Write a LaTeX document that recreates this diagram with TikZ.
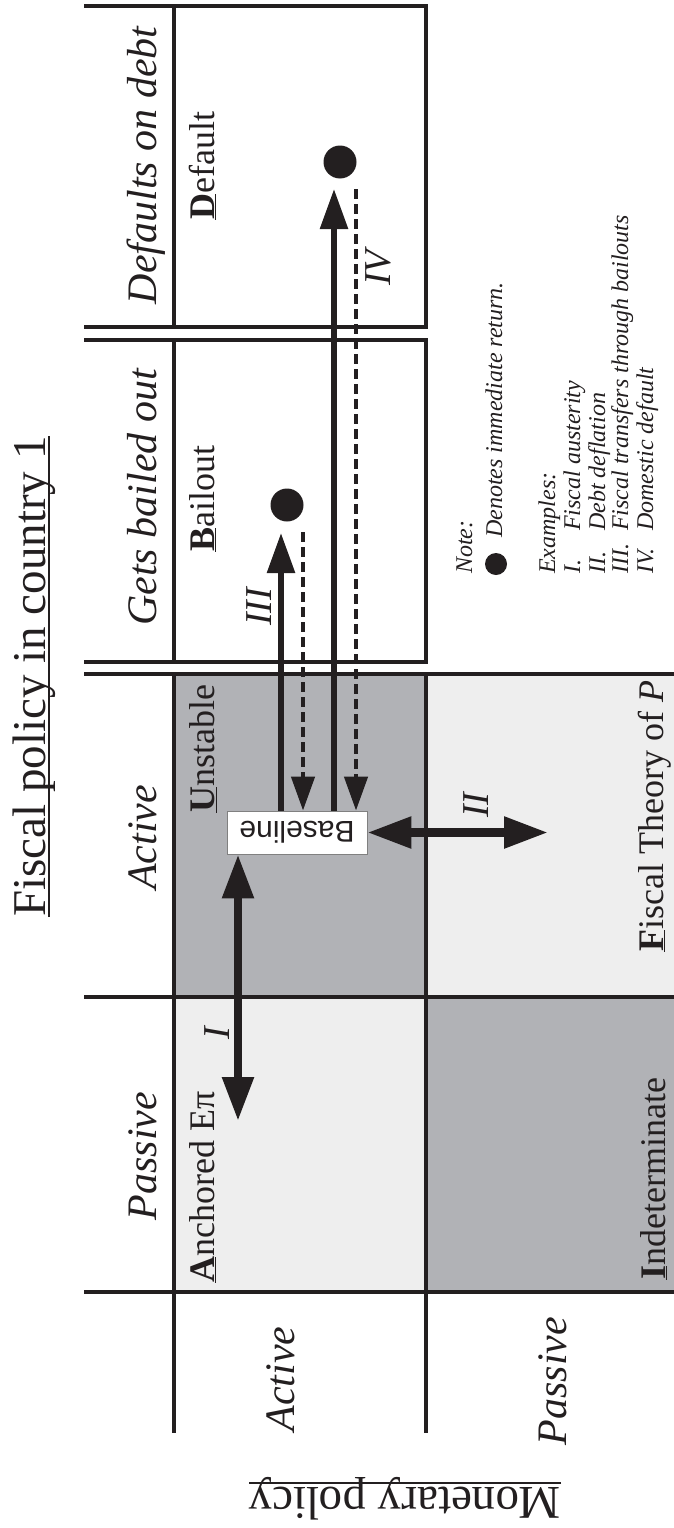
\documentclass[tikz,border=0pt]{standalone}
\usepackage{fontspec}
\usepackage{graphicx}
\setmainfont{Liberation Serif}
\setsansfont{Liberation Sans}
\usetikzlibrary{arrows.meta}

\definecolor{ink}{HTML}{231F20}
\definecolor{darkcell}{HTML}{B1B2B6}
\definecolor{lightcell}{HTML}{EEEEEE}
\newcommand{\keyletter}[1]{\underline{\textbf{#1}}}

\begin{document}
\begin{tikzpicture}[
x=1pt, y=-1pt,
gridline/.style={draw=ink, line width=3.2pt},
titletext/.style={anchor=base west, inner sep=0pt, text=ink, font={\fontsize{47}{54}\selectfont}},
headtext/.style={rotate=90, anchor=base, inner sep=0pt, text=ink, font={\fontsize{42}{48}\selectfont\itshape}},
celltext/.style={rotate=90, anchor=base west, inner sep=0pt, text=ink, font={\fontsize{36}{42}\selectfont}},
numtext/.style={rotate=90, inner sep=0pt, text=ink, font={\fontsize{38}{44}\selectfont\itshape}},
notetext/.style={rotate=90, anchor=base west, inner sep=0pt, text=ink, font={\fontsize{24}{28}\selectfont\itshape}},
bigdot/.style={circle, fill=ink, inner sep=0pt, minimum size=33pt},
smalldot/.style={circle, fill=ink, inner sep=0pt, minimum size=22pt},
basebox/.style={rectangle, draw=gray, fill=white, line width=0.8pt, minimum width=140pt, minimum height=43pt, inner sep=0pt, text=ink, font={\sffamily\fontsize{30}{34}\selectfont}},
twoway/.style={draw=ink, line width=8.5pt, {Triangle[length=44pt,width=30pt]}-{Triangle[length=44pt,width=30pt]}},
goarr/.style={draw=ink, line width=5.7pt, -{Triangle[length=40pt,width=27pt]}},
backarr/.style={draw=ink, line width=4.5pt, dash pattern=on 10pt off 5pt, -{Triangle[length=34pt,width=23pt]}},
]
\useasboundingbox (0,0) rectangle (674,1528);

%Cells
\fill[darkcell] (174,674) rectangle (426,997);
\fill[lightcell] (174,997) rectangle (426,1292);
\fill[lightcell] (426,674) rectangle (674,997);
\fill[darkcell] (426,997) rectangle (674,1292);

%Lines
\draw[gridline] (84,6) -- (426,6) -- (426,327) -- (84,327);
\draw[gridline] (84,340) -- (426,340) -- (426,662) -- (84,662);
\draw[gridline] (174,6) -- (174,327);
\draw[gridline] (174,340) -- (174,662);
\foreach \yy in {674,997,1292}
  \draw[gridline] (84,\yy) -- (674,\yy);
\foreach \xx in {174,426}
  \draw[gridline] (\xx,674) -- (\xx,1433);

%Titles
\node[titletext, rotate=90] (title) at (45,917) {Fiscal policy in country 1};
\draw[ink, line width=1.5pt] ([xshift=4pt]title.base west) -- ([xshift=4pt]title.base east);
\node[titletext, rotate=180] (monetary) at (561,1487) {Monetary policy};
\draw[ink, line width=1.5pt] ([yshift=4pt]monetary.base west) -- ([yshift=4pt]monetary.base east);

%Headers
\node[headtext] (hdefault) at (156,165.5) {Defaults on debt};
\node[headtext] (hbailout) at (156,497.5) {Gets bailed out};
\node[headtext] (hfactive) at (156,837.5) {Active};
\node[headtext] (hfpassive) at (156,1156) {Passive};
\node[headtext] (hmactive) at (294,1379) {Active};
\node[headtext] (hmpassive) at (566,1381) {Passive};

%Cell labels
\node[celltext] (default) at (214,220) {\keyletter{D}efault};
\node[celltext] (bailout) at (214,552) {\keyletter{B}ailout};
\node[celltext] (unstable) at (214,813) {\keyletter{U}nstable};
\node[celltext] (anchored) at (214,1283) {\keyletter{A}nchored Eπ};
\node[celltext] (ftpl) at (663,952) {\keyletter{F}iscal Theory of \textit{P}};
\node[celltext] (indet) at (665,1280) {\keyletter{I}ndeterminate};

%Baseline and returns
\node[basebox] (base) at (297,832.5) {\rotatebox{180}{Baseline}};
\node[bigdot] (dotIII) at (287,505) {};
\node[bigdot] (dotIV) at (340,162) {};
\coordinate (tipIII) at (281,533);
\coordinate (retIII) at (303,532);
\coordinate (tipIV) at (334,189);
\coordinate (retIV) at (356,189);
\coordinate (endI) at (238,1121);
\coordinate (endII) at (548,832.5);

\draw[goarr] (base.north -| tipIII) -- (tipIII);
\draw[backarr] (retIII) -- (retIII |- base.north);
\draw[goarr] (base.north -| tipIV) -- (tipIV);
\draw[backarr] (retIV) -- (retIV |- base.north);
\draw[twoway] (base.south -| endI) -- (endI);
\draw[twoway] (base.east) -- (endII);

\node[numtext] (numI) at (217,1033) {I};
\node[numtext] (numII) at (476,805) {II};
\node[numtext] (numIII) at (259,607) {III};
\node[numtext] (numIV) at (378,268) {IV};

%Note
\node[notetext] (note) at (472,574) {Note:};
\node[smalldot] (notedot) at (496,564) {};
\node[notetext] (denote) at (502,538) {Denotes immediate return.};
\node[notetext] (examples) at (555,574) {Examples:};
\foreach \num/\txt/\xx [count=\k] in {I./Fiscal austerity/580, II./Debt deflation/605, III./Fiscal transfers through bailouts/628, IV./Domestic default/653} {
  \node[notetext] (exnum\k) at (\xx,574) {\num};
  \node[notetext] (ex\k) at (\xx,531) {\txt};
}
\end{tikzpicture}
\end{document}
